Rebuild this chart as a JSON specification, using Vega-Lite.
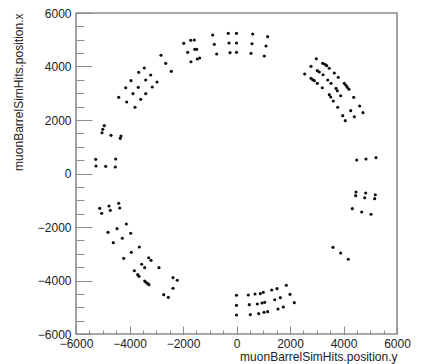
{
  "$schema": "https://vega.github.io/schema/vega-lite/v6.json",
  "autosize": "none",
  "width": 321,
  "height": 321,
  "padding": {"left": 76, "top": 13, "right": 26, "bottom": 30},
  "background": "white",
  "config": {
    "view": {"stroke": "#8c8c8c", "strokeWidth": 1.6},
    "font": "Liberation Sans",
    "axis": {
      "domain": false,
      "grid": false,
      "labelFont": "Liberation Sans",
      "titleFont": "Liberation Sans",
      "labelFontSize": 12,
      "titleFontSize": 12,
      "titleFontWeight": "normal",
      "labelColor": "#222",
      "titleColor": "#222",
      "tickColor": "#8c8c8c",
      "tickWidth": 1,
      "labelFlush": false,
      "labelOverlap": false,
      "format": "d"
    }
  },
  "data": {
    "values": [
      {"position_y": -5263, "position_x": 531},
      {"position_y": -5252, "position_x": 280},
      {"position_y": -4890, "position_x": 269},
      {"position_y": -4531, "position_x": 243},
      {"position_y": -4516, "position_x": 542},
      {"position_y": -4942, "position_x": 1787},
      {"position_y": -5002, "position_x": 1652},
      {"position_y": -5028, "position_x": 1525},
      {"position_y": -4691, "position_x": 1428},
      {"position_y": -4318, "position_x": 1402},
      {"position_y": -4344, "position_x": 1316},
      {"position_y": -4404, "position_x": 2848},
      {"position_y": -4142, "position_x": 3207},
      {"position_y": -4105, "position_x": 2673},
      {"position_y": -3944, "position_x": 3469},
      {"position_y": -3869, "position_x": 2983},
      {"position_y": -3794, "position_x": 2475},
      {"position_y": -3656, "position_x": 3783},
      {"position_y": -3671, "position_x": 3222},
      {"position_y": -3581, "position_x": 2774},
      {"position_y": -3447, "position_x": 3944},
      {"position_y": -3394, "position_x": 3495},
      {"position_y": -3394, "position_x": 2983},
      {"position_y": -3207, "position_x": 3682},
      {"position_y": -3148, "position_x": 3234},
      {"position_y": -2972, "position_x": 3420},
      {"position_y": -2822, "position_x": 4419},
      {"position_y": -2647, "position_x": 4119},
      {"position_y": -2437, "position_x": 3820},
      {"position_y": -1974, "position_x": 4867},
      {"position_y": -1824, "position_x": 4531},
      {"position_y": -1712, "position_x": 4979},
      {"position_y": -1577, "position_x": 4990},
      {"position_y": -1563, "position_x": 4643},
      {"position_y": -1488, "position_x": 4643},
      {"position_y": -1701, "position_x": 4179},
      {"position_y": -1465, "position_x": 4280},
      {"position_y": -1376, "position_x": 4318},
      {"position_y": -890, "position_x": 5177},
      {"position_y": -830, "position_x": 4830},
      {"position_y": -740, "position_x": 4467},
      {"position_y": -307, "position_x": 5241},
      {"position_y": -280, "position_x": 4878},
      {"position_y": -243, "position_x": 4516},
      {"position_y": 0, "position_x": 5241},
      {"position_y": 0, "position_x": 4878},
      {"position_y": 0, "position_x": 4531},
      {"position_y": 606, "position_x": 5215},
      {"position_y": 1166, "position_x": 5114},
      {"position_y": 580, "position_x": 4852},
      {"position_y": 1103, "position_x": 4766},
      {"position_y": 542, "position_x": 4493},
      {"position_y": 1039, "position_x": 4392},
      {"position_y": 2983, "position_x": 4291},
      {"position_y": 2785, "position_x": 4007},
      {"position_y": 2549, "position_x": 3720},
      {"position_y": 3222, "position_x": 4119},
      {"position_y": 3308, "position_x": 4082},
      {"position_y": 3372, "position_x": 4030},
      {"position_y": 3469, "position_x": 3933},
      {"position_y": 3020, "position_x": 3843},
      {"position_y": 3095, "position_x": 3794},
      {"position_y": 3234, "position_x": 3693},
      {"position_y": 2785, "position_x": 3559},
      {"position_y": 2848, "position_x": 3506},
      {"position_y": 2908, "position_x": 3469},
      {"position_y": 3656, "position_x": 3757},
      {"position_y": 3805, "position_x": 3596},
      {"position_y": 3409, "position_x": 3495},
      {"position_y": 3020, "position_x": 3372},
      {"position_y": 3207, "position_x": 3207},
      {"position_y": 3533, "position_x": 3372},
      {"position_y": 4030, "position_x": 3372},
      {"position_y": 4093, "position_x": 3297},
      {"position_y": 4142, "position_x": 3222},
      {"position_y": 4205, "position_x": 3148},
      {"position_y": 3720, "position_x": 3185},
      {"position_y": 3768, "position_x": 3095},
      {"position_y": 3469, "position_x": 2946},
      {"position_y": 3521, "position_x": 2860},
      {"position_y": 3619, "position_x": 2710},
      {"position_y": 3895, "position_x": 2908},
      {"position_y": 4381, "position_x": 2848},
      {"position_y": 3783, "position_x": 2475},
      {"position_y": 4269, "position_x": 2348},
      {"position_y": 4605, "position_x": 2523},
      {"position_y": 4729, "position_x": 2273},
      {"position_y": 3970, "position_x": 2161},
      {"position_y": 4404, "position_x": 2123},
      {"position_y": 4067, "position_x": 1974},
      {"position_y": 4493, "position_x": 505},
      {"position_y": 4841, "position_x": 542},
      {"position_y": 5215, "position_x": 591},
      {"position_y": 4467, "position_x": -692},
      {"position_y": 4456, "position_x": -830},
      {"position_y": 4830, "position_x": -729},
      {"position_y": 4792, "position_x": -905},
      {"position_y": 5189, "position_x": -793},
      {"position_y": 5166, "position_x": -942},
      {"position_y": 4329, "position_x": -1316},
      {"position_y": 4680, "position_x": -1439},
      {"position_y": 5028, "position_x": -1525},
      {"position_y": 3607, "position_x": -2759},
      {"position_y": 3895, "position_x": -2972},
      {"position_y": 4179, "position_x": -3207},
      {"position_y": 0, "position_x": -4553},
      {"position_y": 0, "position_x": -4927},
      {"position_y": 0, "position_x": -5290},
      {"position_y": 441, "position_x": -4542},
      {"position_y": 478, "position_x": -4904},
      {"position_y": 516, "position_x": -5278},
      {"position_y": 692, "position_x": -4505},
      {"position_y": 890, "position_x": -4493},
      {"position_y": 1002, "position_x": -4441},
      {"position_y": 778, "position_x": -4878},
      {"position_y": 953, "position_x": -4841},
      {"position_y": 1054, "position_x": -4815},
      {"position_y": 830, "position_x": -5241},
      {"position_y": 1028, "position_x": -5189},
      {"position_y": 1166, "position_x": -5166},
      {"position_y": 1316, "position_x": -4355},
      {"position_y": 1514, "position_x": -4306},
      {"position_y": 1428, "position_x": -4718},
      {"position_y": 1637, "position_x": -4643},
      {"position_y": 1551, "position_x": -5065},
      {"position_y": 1749, "position_x": -4990},
      {"position_y": 1862, "position_x": -4179},
      {"position_y": 2000, "position_x": -4516},
      {"position_y": 2161, "position_x": -4830},
      {"position_y": -5114, "position_x": -1301},
      {"position_y": -5039, "position_x": -1488},
      {"position_y": -4766, "position_x": -1215},
      {"position_y": -4718, "position_x": -1376},
      {"position_y": -4404, "position_x": -1114},
      {"position_y": -4366, "position_x": -1290},
      {"position_y": -4804, "position_x": -2198},
      {"position_y": -4605, "position_x": -2587},
      {"position_y": -4467, "position_x": -2063},
      {"position_y": -4269, "position_x": -2422},
      {"position_y": -4119, "position_x": -1888},
      {"position_y": -4217, "position_x": -3170},
      {"position_y": -3955, "position_x": -2235},
      {"position_y": -3933, "position_x": -2946},
      {"position_y": -3634, "position_x": -2748},
      {"position_y": -3820, "position_x": -3634},
      {"position_y": -3693, "position_x": -3783},
      {"position_y": -3645, "position_x": -3843},
      {"position_y": -3544, "position_x": -3394},
      {"position_y": -3432, "position_x": -3521},
      {"position_y": -3282, "position_x": -3148},
      {"position_y": -3196, "position_x": -3245},
      {"position_y": -3432, "position_x": -4019},
      {"position_y": -3383, "position_x": -4067},
      {"position_y": -3320, "position_x": -4119},
      {"position_y": -3271, "position_x": -4157},
      {"position_y": -2897, "position_x": -3521},
      {"position_y": -2721, "position_x": -4531},
      {"position_y": -2549, "position_x": -4628},
      {"position_y": -2374, "position_x": -3895},
      {"position_y": -2374, "position_x": -4291},
      {"position_y": -2213, "position_x": -3992}
    ]
  },
  "layer": [
    {
      "mark": {"type": "circle", "size": 10, "color": "#111", "opacity": 1},
      "encoding": {
        "x": {
          "field": "position_y",
          "type": "quantitative",
          "scale": {"domain": [-6000, 6000], "nice": false, "zero": false},
          "axis": {
            "orient": "bottom",
            "values": [-6000, -4000, -2000, 0, 2000, 4000, 6000],
            "tickSize": -8,
            "labelPadding": 12,
            "title": "muonBarrelSimHits.position.y",
            "titleAnchor": "end",
            "titlePadding": 2
          }
        },
        "y": {
          "field": "position_x",
          "type": "quantitative",
          "scale": {"domain": [-6000, 6000], "nice": false, "zero": false},
          "axis": {
            "orient": "left",
            "values": [-6000, -4000, -2000, 0, 2000, 4000, 6000],
            "tickSize": -16,
            "labelPadding": 21,
            "title": "muonBarrelSimHits.position.x",
            "titleAnchor": "end",
            "titlePadding": 12
          }
        }
      }
    },
    {
      "mark": {"type": "circle", "size": 10, "opacity": 0},
      "encoding": {
        "x": {
          "field": "position_y",
          "type": "quantitative",
          "axis": {
            "orient": "bottom",
            "values": [-6000, -5500, -5000, -4500, -4000, -3500, -3000, -2500, -2000, -1500, -1000, -500, 0, 500, 1000, 1500, 2000, 2500, 3000, 3500, 4000, 4500, 5000, 5500, 6000],
            "tickSize": -4,
            "labels": false,
            "title": null
          }
        },
        "y": {
          "field": "position_x",
          "type": "quantitative",
          "axis": {
            "orient": "left",
            "values": [-6000, -5500, -5000, -4500, -4000, -3500, -3000, -2500, -2000, -1500, -1000, -500, 0, 500, 1000, 1500, 2000, 2500, 3000, 3500, 4000, 4500, 5000, 5500, 6000],
            "tickSize": -8,
            "labels": false,
            "title": null
          }
        }
      }
    }
  ],
  "resolve": {"axis": {"x": "independent", "y": "independent"}}
}
